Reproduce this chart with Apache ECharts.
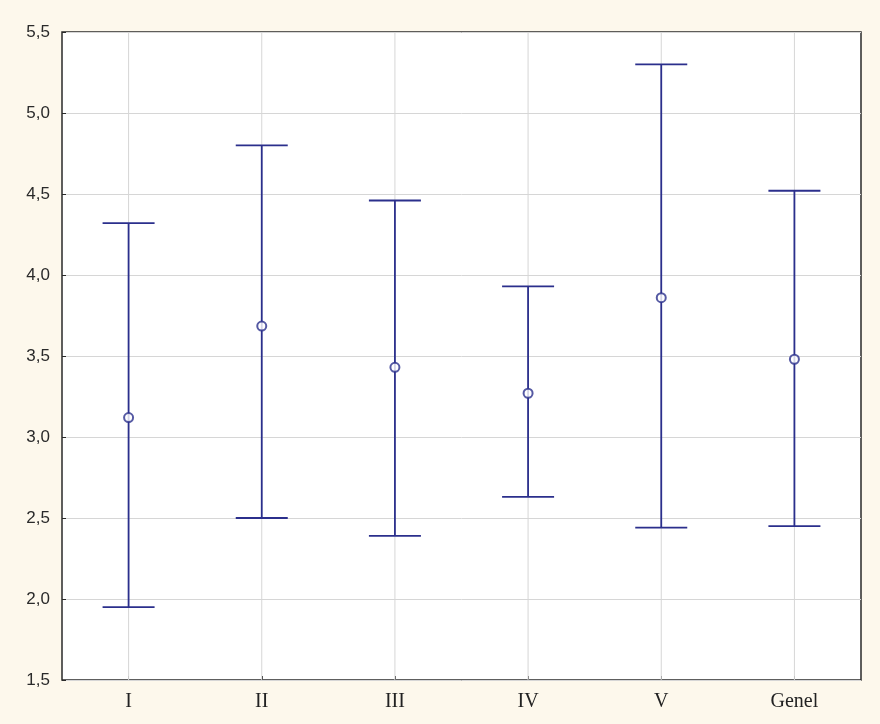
<!DOCTYPE html>
<html>
<head>
<meta charset="utf-8">
<script src="https://cdn.jsdelivr.net/npm/echarts@6/dist/echarts.min.js"></script>
<style>
  html, body { margin: 0; padding: 0; background: #fdf8ec; }
  #chart { width: 880px; height: 724px; }
</style>
</head>
<body>
<div id="chart"></div>
<script>
// groups on the x axis
const categories = ['I', 'II', 'III', 'IV', 'V', 'Genel']
// means and the lower / upper ends of the error bars
const means = [3.12, 3.685, 3.43, 3.27, 3.86, 3.48]
const lowers = [1.95, 2.50, 2.39, 2.63, 2.44, 2.45]
const uppers = [4.32, 4.80, 4.46, 3.93, 5.30, 4.52]

const yMin = 1.5
const yMax = 5.5
const navy = '#2b2f8c'
const capHalf = 26

const barData = categories.map((c, i) => [i, lowers[i], uppers[i]])
const gridData = categories.map((c, i) => [i, yMin, yMax])

const chart = echarts.init(document.getElementById('chart'))
chart.setOption({
  backgroundColor: '#fdf8ec',
  animation: false,
  grid: {
    left: 62,
    right: 19,
    top: 32,
    bottom: 44,
    show: true,
    backgroundColor: '#ffffff',
    borderColor: '#2a2a2a',
    borderWidth: 1.5
  },
  xAxis: {
    type: 'category',
    data: categories,
    boundaryGap: true,
    axisLine: { show: false },
    axisTick: { show: true, alignWithLabel: true, inside: true, length: 4, lineStyle: { color: '#2a2a2a' } },
    axisLabel: {
      color: '#222',
      fontFamily: 'Liberation Serif',
      fontSize: 20,
      margin: 12
    },
    splitLine: { show: false }
  },
  yAxis: {
    type: 'value',
    min: yMin,
    max: yMax,
    interval: 0.5,
    axisLine: { show: false },
    axisTick: { show: true, inside: true, length: 4, lineStyle: { color: '#2a2a2a' } },
    axisLabel: {
      color: '#2a2a2a',
      fontFamily: 'Liberation Sans',
      fontSize: 17,
      margin: 12,
      formatter: v => v.toFixed(1).replace('.', ',')
    },
    splitLine: { show: true, lineStyle: { color: '#d6d6d6', width: 1 } }
  },
  series: [
    {
      // vertical grid lines through the category centres
      type: 'custom',
      data: gridData,
      silent: true,
      z: 1,
      renderItem: function (params, api) {
        const lo = api.coord([api.value(0), api.value(1)])
        const hi = api.coord([api.value(0), api.value(2)])
        return {
          type: 'line',
          shape: { x1: lo[0], y1: hi[1], x2: lo[0], y2: lo[1] },
          style: { stroke: '#d6d6d6', lineWidth: 1 }
        }
      }
    },
    {
      type: 'custom',
      data: barData,
      z: 2,
      renderItem: function (params, api) {
        const lo = api.coord([api.value(0), api.value(1)])
        const hi = api.coord([api.value(0), api.value(2)])
        const x = lo[0]
        const style = { stroke: navy, lineWidth: 1.8 }
        return {
          type: 'group',
          children: [
            { type: 'line', shape: { x1: x, y1: hi[1], x2: x, y2: lo[1] }, style: style },
            { type: 'line', shape: { x1: x - capHalf, y1: hi[1], x2: x + capHalf, y2: hi[1] }, style: style },
            { type: 'line', shape: { x1: x - capHalf, y1: lo[1], x2: x + capHalf, y2: lo[1] }, style: style }
          ]
        }
      }
    },
    {
      type: 'scatter',
      data: means,
      symbol: 'circle',
      symbolSize: 9,
      itemStyle: { color: '#ffffff', borderColor: navy, borderWidth: 2 },
      z: 3
    }
  ]
})
</script>
</body>
</html>
